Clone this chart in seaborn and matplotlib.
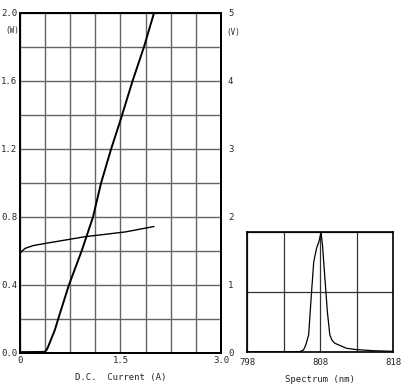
import numpy as np
import pandas as pd
import seaborn as sns
import matplotlib.pyplot as plt

# L-I curve (optical power, W) vs DC current (A)
power_current = [0.0, 0.30, 0.36, 0.38, 0.40, 0.42, 0.47, 0.52, 0.57, 0.73, 0.92, 1.09, 1.21, 1.36, 1.50, 1.68, 1.85, 2.00]
power_watts = [0.005, 0.006, 0.007, 0.010, 0.020, 0.037, 0.086, 0.135, 0.200, 0.400, 0.600, 0.800, 1.000, 1.200, 1.370, 1.600, 1.800, 2.000]

# V-I curve (forward voltage, V) vs DC current (A)
volt_current = [0.0, 0.03, 0.08, 0.20, 0.37, 0.97, 1.57, 2.00]
volt_values = [1.46, 1.50, 1.54, 1.58, 1.61, 1.71, 1.78, 1.86]

# normalized emission spectrum
wavelength = [798.0, 804.0, 805.2, 805.7, 806.0, 806.4, 806.8, 807.1, 807.5, 807.8, 808.1,
              808.3, 808.6, 808.96, 809.3, 809.6, 810.0, 811.6, 813.0, 815.3, 818.0]
intensity = [0.004, 0.004, 0.006, 0.02, 0.06, 0.145, 0.505, 0.755, 0.87, 0.92, 1.0,
             0.89, 0.64, 0.34, 0.145, 0.10, 0.075, 0.033, 0.022, 0.013, 0.008]

x_ticks = [0.375 * i for i in range(9)]
x_labels = ["0", "", "", "", "1.5", "", "", "", "3.0"]
w_ticks = [0.2 * i for i in range(11)]
w_labels = [f"{t:.1f}" if i % 2 == 0 else "" for i, t in enumerate(w_ticks)]
v_ticks = [0.5 * i for i in range(11)]
v_labels = [str(int(t)) if i % 2 == 0 else "" for i, t in enumerate(v_ticks)]

sns.set_style("white")
plt.rcParams["font.family"] = ["DejaVu Sans Mono", "DejaVu Sans"]

grid_color = "#6a6262"
fs = 6.5

fig = plt.figure(figsize=(4.03, 3.90), dpi=100)

# main chart
ax = fig.add_axes([0.0496, 0.0949, 0.4988, 0.8718])
ax2 = ax.twinx()

li_df = pd.DataFrame({"current": power_current, "power": power_watts})
vi_df = pd.DataFrame({"current": volt_current, "voltage": volt_values})

sns.lineplot(data=li_df, x="current", y="power", ax=ax, color="black", linewidth=1.4)
sns.lineplot(data=vi_df, x="current", y="voltage", ax=ax2, color="black", linewidth=1.0)

ax.set_xlim(0, 3.0)
ax.set_ylim(0, 2.0)
ax2.set_ylim(0, 5.0)

ax.set_xticks(x_ticks)
ax.set_xticklabels(x_labels, fontsize=fs)
ax.set_yticks(w_ticks)
ax.set_yticklabels(w_labels, fontsize=fs)
ax2.set_yticks(v_ticks)
ax2.set_yticklabels(v_labels, fontsize=fs)

ax.tick_params(length=0, pad=2)
ax2.tick_params(length=0, pad=5)
ax.grid(True, color=grid_color, linewidth=1.0)
ax2.grid(False)
ax.set_axisbelow(True)

for a in (ax, ax2):
    for side in a.spines.values():
        side.set_color("black")
        side.set_linewidth(1.4)

ax.set_xlabel("D.C.  Current (A)", fontsize=fs, labelpad=6)
ax.set_ylabel("")
ax2.set_ylabel("")

fig.text(5 / 403, 1 - 31 / 390, "(W)", fontsize=5.5, ha="left", va="center")
fig.text(226 / 403, 1 - 33 / 390, "(V)", fontsize=5.5, ha="left", va="center")

# spectrum inset
axs = fig.add_axes([0.6137, 0.0967, 0.3623, 0.3077])
sp_df = pd.DataFrame({"wavelength": wavelength, "intensity": intensity})
sns.lineplot(data=sp_df, x="wavelength", y="intensity", ax=axs, color="black", linewidth=0.9)

axs.set_xlim(798, 818)
axs.set_ylim(0, 1.0)
axs.set_xticks([798, 803, 808, 813, 818])
axs.set_xticklabels(["798", "", "808", "", "818"], fontsize=fs)
axs.set_yticks([0, 0.5, 1.0])
axs.set_yticklabels([])
axs.tick_params(length=0, pad=4)
axs.grid(True, color="#333333", linewidth=0.9)
axs.set_axisbelow(True)
for side in axs.spines.values():
    side.set_color("black")
    side.set_linewidth(1.2)
axs.set_xlabel("Spectrum (nm)", fontsize=fs, labelpad=6)
axs.set_ylabel("")

fig.savefig("out.png", dpi=100)
